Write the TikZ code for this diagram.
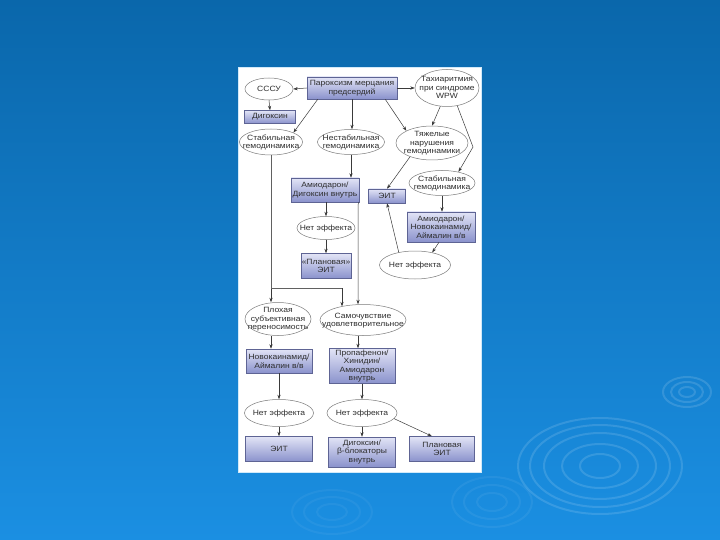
\documentclass[tikz,border=0pt]{standalone}
\usepackage{fontspec}
\setmainfont[FakeStretch=1.12]{Liberation Sans}
\usetikzlibrary{shapes.geometric,arrows.meta,calc}
\definecolor{bgtop}{HTML}{0A67AB}
\definecolor{bgbot}{HTML}{1B8FE2}
\definecolor{boxtop}{HTML}{E2E4F6}
\definecolor{boxbot}{HTML}{8A92CC}
\definecolor{boxline}{HTML}{5E6494}
\definecolor{ellline}{HTML}{7A7A7A}
\definecolor{txt}{HTML}{2E2E2E}
\definecolor{arrc}{HTML}{3A3A3A}
\newcommand\zt[1]{\makebox[0pt]{\raisebox{-2.6pt}[0pt][0pt]{\begin{tabular}{@{}c@{}}#1\end{tabular}}}}
\begin{document}
\begin{tikzpicture}[x=1pt,y=-1pt,
  every node/.style={font=\fontsize{7.6}{8.6}\selectfont, text=txt, inner sep=0pt},
  box/.style={rectangle, align=center, draw=boxline, line width=0.5pt, top color=boxtop, bottom color=boxbot},
  ell/.style={ellipse, draw=ellline, line width=0.5pt, fill=white},
  arr/.style={draw=arrc, line width=0.5pt, -{Stealth[length=4.5pt,width=3.2pt]}},
  ln/.style={draw=arrc!80, line width=0.5pt},
  ripple/.style={draw=white, opacity=0.13, line width=2pt}]
\useasboundingbox (0,0) rectangle (720,540);
% background
\shade[top color=bgtop, bottom color=bgbot] (0,0) rectangle (720,540);
% ripples
\foreach \rx/\ry in {8/5,16/10,24/15} \draw[ripple] (687,392) ellipse ({\rx} and {\ry});
\foreach \rx/\ry in {20/12,38/22,56/33,70/41,82/48} \draw[ripple] (600,466) ellipse ({\rx} and {\ry});
\foreach \rx/\ry in {15/9,28/17,40/25} \draw[ripple, opacity=0.06] (492,502) ellipse ({\rx} and {\ry});
\foreach \rx/\ry in {15/8,28/15,40/22} \draw[ripple, opacity=0.05] (332,512) ellipse ({\rx} and {\ry});
% panel
\fill[white] (238,67) rectangle (481,472);
\draw[white!80!bgbot, line width=0.8pt] (238,67) rectangle (481,472);

% nodes
\node[box, minimum width=90pt, minimum height=22pt] (main) at (352,88) {Пароксизм мерцания\\предсердий};
\node[ell, minimum width=48pt, minimum height=22pt] (sssu) at (269,89) {\zt{СССУ}};
\node[ell, minimum width=64pt, minimum height=37pt] (tachy) at (447,88) {\zt{Тахиаритмия\\при синдроме\\WPW}};
\node[box, minimum width=51pt, minimum height=13pt] (digox) at (270,117) {Дигоксин};
\node[ell, minimum width=63pt, minimum height=26pt] (stabL) at (271,142) {\zt{Стабильная\\гемодинамика}};
\node[ell, minimum width=67pt, minimum height=25pt] (nestab) at (351,142) {\zt{Нестабильная\\гемодинамика}};
\node[ell, minimum width=72pt, minimum height=34pt] (tyazh) at (432,143) {\zt{Тяжелые\\нарушения\\гемодинамики}};
\node[box, minimum width=68pt, minimum height=24pt] (amioDig) at (325,190) {Амиодарон/\\Дигоксин внутрь};
\node[box, minimum width=37pt, minimum height=14pt] (eit1) at (387,196) {ЭИТ};
\node[ell, minimum width=66pt, minimum height=25pt] (stabR) at (442,183) {\zt{Стабильная\\гемодинамика}};
\node[box, minimum width=68pt, minimum height=30pt] (amioNov) at (441,227) {Амиодарон/\\Новокаинамид/\\Аймалин в/в};
\node[ell, minimum width=58pt, minimum height=23pt] (net1) at (326,228) {\zt{Нет эффекта}};
\node[box, minimum width=50pt, minimum height=25pt] (plan1) at (326,266) {«Плановая»\\ЭИТ};
\node[ell, minimum width=71pt, minimum height=28pt] (net2) at (415,265) {\zt{Нет эффекта}};
\node[ell, minimum width=66pt, minimum height=33pt] (plokh) at (278,319) {\zt{Плохая\\субъективная\\переносимость}};
\node[ell, minimum width=86pt, minimum height=31pt] (samo) at (363,320) {\zt{Самочувствие\\удовлетворительное}};
\node[box, minimum width=66pt, minimum height=24pt] (novok) at (279,361) {Новокаинамид/\\Аймалин в/в};
\node[box, minimum width=66pt, minimum height=35pt] (propaf) at (362,366) {Пропафенон/\\Хинидин/\\Амиодарон\\внутрь};
\node[ell, minimum width=69pt, minimum height=27pt] (net3) at (279,413) {\zt{Нет эффекта}};
\node[ell, minimum width=70pt, minimum height=27pt] (net4) at (362,413) {\zt{Нет эффекта}};
\node[box, minimum width=67pt, minimum height=25pt] (eit2) at (279,449) {ЭИТ};
\node[box, minimum width=67pt, minimum height=30pt] (digBeta) at (362,452) {Дигоксин/\\β-блокаторы\\внутрь};
\node[box, minimum width=65pt, minimum height=25pt] (plan2) at (442,449) {Плановая\\ЭИТ};

% junction coordinates
\coordinate (j1) at (271,288);
\coordinate (j2) at (342,288);
\coordinate (bend1) at (473,147);
\coordinate (s1) at ($(samo.south)+(-5,0)$);
\coordinate (s2) at ($(amioDig.south east)+(-1,0)$);
\coordinate (s3) at ($(samo.north)+(-5,0)$);

% connectors
\draw[arr] (main.west) -- (sssu.east);
\draw[arr] (main.east) -- (tachy.west);
\draw[arr] (sssu.south) -- (digox.north);
\draw[arr] ($(main.south west)+(11,0)$) -- (stabL.north east);
\draw[arr] (main.south) -- (main.south |- nestab.north);
\draw[arr] ($(main.south east)+(-12,0)$) -- (tyazh.north west);
\draw[arr] (tachy.250) -- (tyazh.north);
\draw[arr] (tachy.300) -- (bend1) -- (stabR.34);
\draw[arr] (tyazh.212) -- (eit1.north);
\draw[arr] (nestab.south) -- (nestab.south |- amioDig.north);
\draw[arr] (amioDig.south -| net1.north) -- (net1.north);
\draw[arr] (net1.south) -- (net1.south |- plan1.north);
\draw[arr] (s2) -- (s3);
\draw[arr] (stabR.south) -- (stabR.south |- amioNov.north);
\draw[arr] ($(amioNov.south)+(-2,0)$) -- (net2.36);
\draw[arr] (net2.142) -- (eit1.south);
\draw[ln] (stabL.south) -- (j1);
\draw[arr] (j1) -- (j1 |- plokh.north);
\draw[ln] (j1) -- (j2);
\draw[arr] (j2) -- ($(samo.center)+(-21,-13.6)$);
\draw[arr] (plokh.south -| j1) -- (novok.north -| j1);
\draw[arr] (s1) -- (s1 |- propaf.north);
\draw[arr] (novok.south) -- (net3.north);
\draw[arr] (propaf.south) -- (net4.north);
\draw[arr] (net3.south) -- (eit2.north);
\draw[arr] (net4.south) -- (digBeta.north);
\draw[arr] (net4.-10) -- ($(plan2.north)+(-10,0)$);
\end{tikzpicture}
\end{document}
